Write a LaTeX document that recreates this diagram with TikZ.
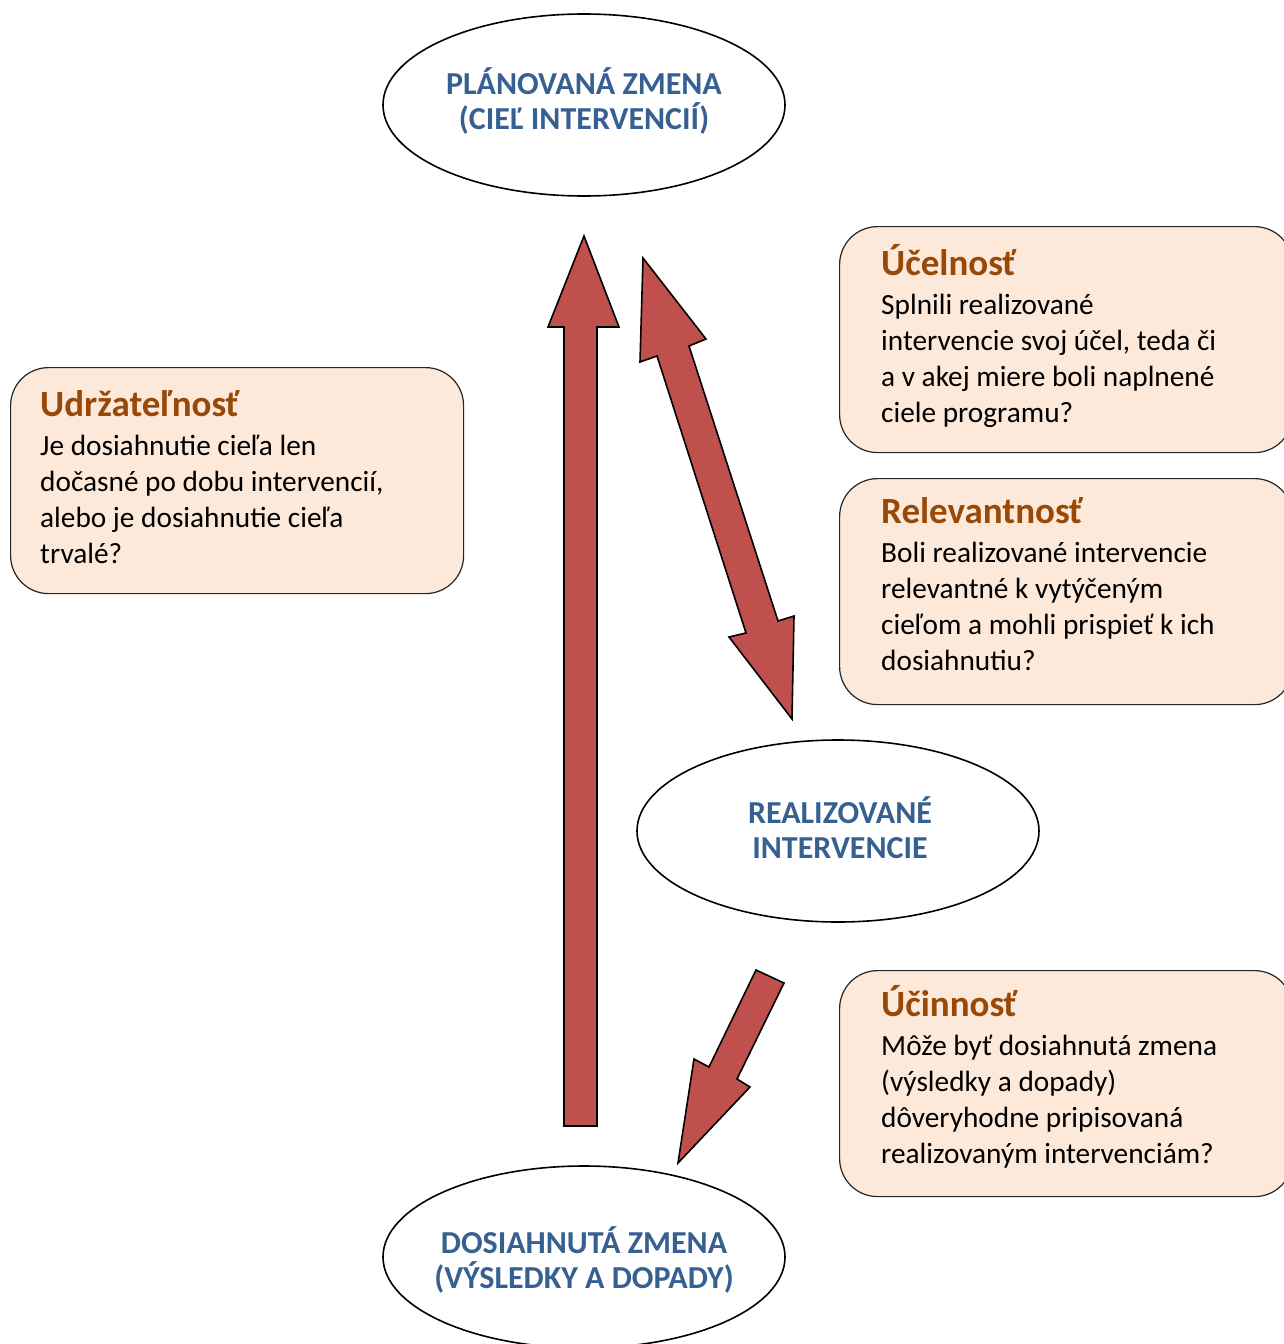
\documentclass[tikz,border=0pt]{standalone}
\usepackage{fontspec}
\setmainfont{Carlito}
\usetikzlibrary{shapes.geometric}
\definecolor{ovalblue}{HTML}{376092}
\definecolor{titlebrown}{HTML}{984807}
\definecolor{boxfill}{HTML}{FDE9D9}
\definecolor{arrowred}{HTML}{C0504D}
\tikzset{
  oval/.style={ellipse, draw=black, line width=1.6pt, minimum width=402pt, minimum height=182pt,
    inner sep=0pt},
  ovaltext/.style={inner sep=0pt, align=center, text=ovalblue, font=\fontsize{32}{35}\selectfont\bfseries},
  qbox/.style={rectangle, rounded corners=38pt, draw=black!85, line width=1.2pt, fill=boxfill,
    minimum width=453pt, minimum height=226pt, anchor=north west, inner sep=0pt},
  qtitle/.style={anchor=base west, inner sep=0pt, text=titlebrown, font=\fontsize{37}{42}\selectfont\bfseries},
  qbody/.style={anchor=base west, inner sep=0pt, align=left, text=black, font=\fontsize{29.3}{36}\selectfont},
  blockarrow/.style={fill=arrowred, draw=black, line width=1.6pt, line join=miter}
}
\begin{document}
\begin{tikzpicture}[x=1pt,y=-1pt]
\useasboundingbox (0,0) rectangle (1284,1344);

% boxes
\node[qbox] (ubox) at (10,367) {};
\node[qbox] (ebox) at (839,226) {};
\node[qbox] (rbox) at (839,478) {};
\node[qbox] (cbox) at (839,970) {};

% body nodes: base anchor = baseline of last line
\node[qtitle] (ut) at (40,416) {Udržateľnosť};
\node[qbody] (ub) at (40,563) {Je dosiahnutie cieľa len\\dočasné po dobu intervencií,\\alebo je dosiahnutie cieľa\\trvalé?};

\node[qtitle] (et) at (881,275) {Účelnosť};
\node[qbody] (eb) at (881,422) {Splnili realizované\\intervencie svoj účel, teda či\\a v akej miere boli naplnené\\ciele programu?};

\node[qtitle] (rt) at (881,523) {Relevantnosť};
\node[qbody] (rb) at (881,670) {Boli realizované intervencie\\relevantné k vytýčeným\\cieľom a mohli prispieť k ich\\dosiahnutiu?};

\node[qtitle] (ct) at (881,1016) {Účinnosť};
\node[qbody] (cb) at (881,1163) {Môže byť dosiahnutá zmena\\(výsledky a dopady)\\dôveryhodne pripisovaná\\realizovaným intervenciám?};

% ovals
\node[oval] (plan) at (584,105) {};
\node[ovaltext] (plant) at (584,101) {PLÁNOVANÁ ZMENA\\(CIEĽ INTERVENCIÍ)};
\node[oval] (real) at (838,831) {};
\node[ovaltext] (realt) at (840,828) {REALIZOVANÉ\\INTERVENCIE};
\node[oval] (dos) at (584,1257) {};
\node[ovaltext] (dost) at (584,1260) {DOSIAHNUTÁ ZMENA\\(VÝSLEDKY A DOPADY)};

% arrows
\draw[blockarrow] (564,1126) -- (564,327) -- (548,327) -- (584,236) -- (619,327) -- (597,327) -- (597,1126) -- cycle;
\draw[blockarrow] (643,258) -- (706,339) -- (689,346) -- (778,621) -- (794,616) -- (792,719)
  -- (729,637) -- (746,633) -- (657,356) -- (640,362) -- cycle;
\draw[blockarrow] (756,970) -- (784,983) -- (737,1079) -- (750,1087) -- (678,1163) -- (694,1059) -- (709,1067) -- cycle;
\end{tikzpicture}
\end{document}
